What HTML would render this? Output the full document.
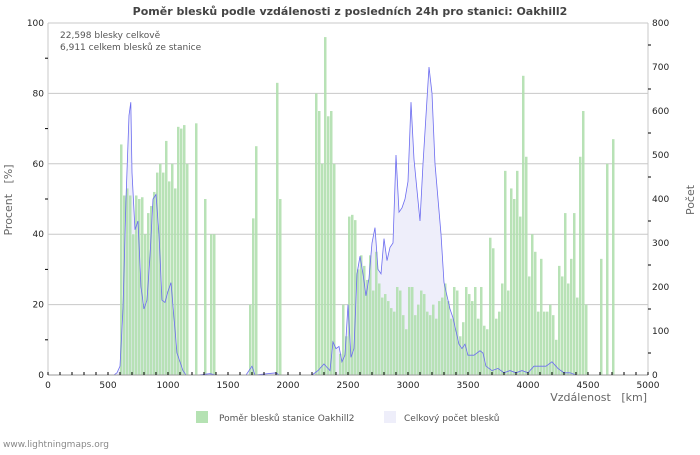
<!DOCTYPE html>
<html><head><meta charset="utf-8"><style>
body{margin:0;background:#fff;}
svg text{font-family:"DejaVu Sans","Liberation Sans",sans-serif;}
</style></head><body>
<svg id="s" width="700" height="450" xmlns="http://www.w3.org/2000/svg"></svg>
<script>
const s=document.getElementById('s');
const X=k=>48+k*0.12, Y=p=>375-p*3.52, YC=c=>375-c*0.44;
let h='<rect width="700" height="450" fill="#fff"/>';
for(let p=20;p<=100;p+=20){h+=`<line x1="48" x2="648" y1="${Y(p)}" y2="${Y(p)}" stroke="#c8c8c8"/>`;}
const bars={600:65.5,625:51,650:53,675:51,700:40,725:51,750:50,775:50.5,800:40,825:46,850:48,875:52,900:57.5,925:60,950:57.5,975:66.5,1000:55,1025:60,1050:53,1075:70.5,1100:70,1125:71,1150:60,1225:71.5,1300:50,1350:40,1375:40,1675:20,1700:44.5,1725:65,1900:83,1925:50,2225:80,2250:75,2275:60,2300:96,2325:73.5,2350:75,2375:60,2425:6,2450:20,2475:11,2500:45,2525:45.5,2550:44,2575:30,2600:34,2625:31,2650:27,2675:34,2700:24,2725:35,2750:26,2775:22,2800:23,2825:21,2850:19,2875:18,2900:25,2925:24,2950:17,2975:13,3000:25,3025:25,3050:17,3075:20,3100:24,3125:23,3150:18,3175:17,3200:20,3225:16,3250:21,3275:22,3300:26,3325:21,3350:16,3375:25,3400:24,3425:11,3450:15,3475:25,3500:23,3525:21,3550:25,3575:16,3600:25,3625:14,3650:13,3675:39,3700:36,3725:16,3750:18,3775:26,3800:58,3825:24,3850:53,3875:50,3900:58,3925:45,3950:85,3975:62,4000:28,4025:40,4050:35,4075:18,4100:33,4125:18,4150:18,4175:20,4200:17,4225:10,4250:31,4275:28,4300:46,4325:26,4350:33,4375:46,4400:22,4425:62,4450:75,4475:20,4600:33,4650:60,4700:67};
const L=[[500,0],[550,0],[575,5],[600,20],[625,150],[650,400],[675,590],[690,620],[700,460],[725,330],[750,350],[775,200],[800,150],[825,170],[850,270],[875,400],[900,410],[925,320],[950,170],[975,165],[1000,190],[1025,210],[1050,130],[1075,50],[1100,30],[1125,10],[1150,0],[1250,0],[1350,3],[1400,0],[1650,0],[1700,20],[1725,0],[1900,5],[1925,0],[2200,0],[2250,10],[2300,25],[2350,10],[2375,75],[2400,60],[2425,65],[2450,30],[2475,45],[2500,160],[2525,40],[2550,60],[2575,230],[2600,270],[2625,230],[2650,180],[2675,220],[2700,300],[2725,335],[2750,240],[2775,230],[2800,310],[2825,260],[2850,290],[2875,300],[2900,500],[2925,370],[2950,380],[2975,400],[3000,440],[3025,620],[3050,490],[3075,420],[3100,350],[3125,480],[3175,700],[3200,640],[3225,480],[3275,320],[3300,210],[3325,180],[3350,150],[3375,130],[3400,100],[3425,70],[3450,60],[3475,70],[3500,45],[3550,45],[3600,55],[3625,50],[3650,20],[3700,10],[3750,15],[3800,5],[3850,10],[3900,5],[3950,10],[4000,5],[4050,20],[4100,20],[4150,20],[4200,30],[4250,15],[4300,5],[4350,5],[4400,0],[4500,0]];
let pts=L.map(p=>`${X(p[0]).toFixed(1)},${YC(p[1]).toFixed(1)}`).join(' ');
h+=`<polygon points="${X(500)},375 ${pts} ${X(4500)},375" fill="#eeeefa"/>`;
for(const k in bars){const x=X(+k);h+=`<rect x="${x}" y="${Y(bars[k])}" width="2.5" height="${bars[k]*3.52}" fill="#b0dfae" fill-opacity="0.9"/>`;}
h+=`<polyline points="${pts}" fill="none" stroke="#6c6cf0" stroke-width="0.8"/>`;
h+=`<line x1="48" x2="48" y1="23" y2="375" stroke="#c8c8c8"/><line x1="648" x2="648" y1="23" y2="375" stroke="#c8c8c8"/><line x1="48" x2="648" y1="375" y2="375" stroke="#999"/>`;
for(let k=0;k<=5000;k+=100){h+=`<line x1="${X(k)}" x2="${X(k)}" y1="372" y2="375" stroke="#000"/>`;}
for(let k=0;k<=5000;k+=500){h+=`<text x="${X(k)}" y="388" font-size="9" text-anchor="middle" fill="#222">${k}</text>`;}
for(let p=0;p<=100;p+=20){h+=`<text x="44" y="${Y(p)+3}" font-size="9" text-anchor="end" fill="#222">${p}</text>`;}
for(let p=10;p<100;p+=20){h+=`<line x1="45" x2="48" y1="${Y(p)}" y2="${Y(p)}" stroke="#000"/>`;}
for(let c=0;c<=800;c+=100){h+=`<text x="652" y="${YC(c)+3}" font-size="9" fill="#222">${c}</text>`;}
for(let c=50;c<800;c+=100){h+=`<line x1="648" x2="651" y1="${YC(c)}" y2="${YC(c)}" stroke="#000"/>`;}
h+=`<text x="350" y="15" font-size="11" font-weight="bold" text-anchor="middle" fill="#444">Poměr blesků podle vzdálenosti z posledních 24h pro stanici: Oakhill2</text>`;
h+=`<text x="60" y="38" font-size="9" fill="#555">22,598 blesky celkově</text><text x="60" y="50" font-size="9" fill="#555">6,911 celkem blesků ze stanice</text>`;
h+=`<text x="647" y="401" font-size="11" text-anchor="end" fill="#666" xml:space="preserve">Vzdálenost   [km]</text>`;
h+=`<text transform="translate(12,200) rotate(-90)" font-size="11" text-anchor="middle" fill="#666" xml:space="preserve">Procent   [%]</text>`;
h+=`<text transform="translate(694,200) rotate(-90)" font-size="11" text-anchor="middle" fill="#666">Počet</text>`;
h+=`<rect x="196" y="411" width="12" height="12" fill="#b5e2b3"/><text x="219" y="421" font-size="9" fill="#555">Poměr blesků stanice Oakhill2</text>`;
h+=`<rect x="384" y="411" width="12" height="12" fill="#eeeefa"/><text x="404" y="421" font-size="9" fill="#555">Celkový počet blesků</text>`;
h+=`<text x="3" y="447" font-size="9" fill="#888">www.lightningmaps.org</text>`;
s.innerHTML=h;
</script>
</body></html>
